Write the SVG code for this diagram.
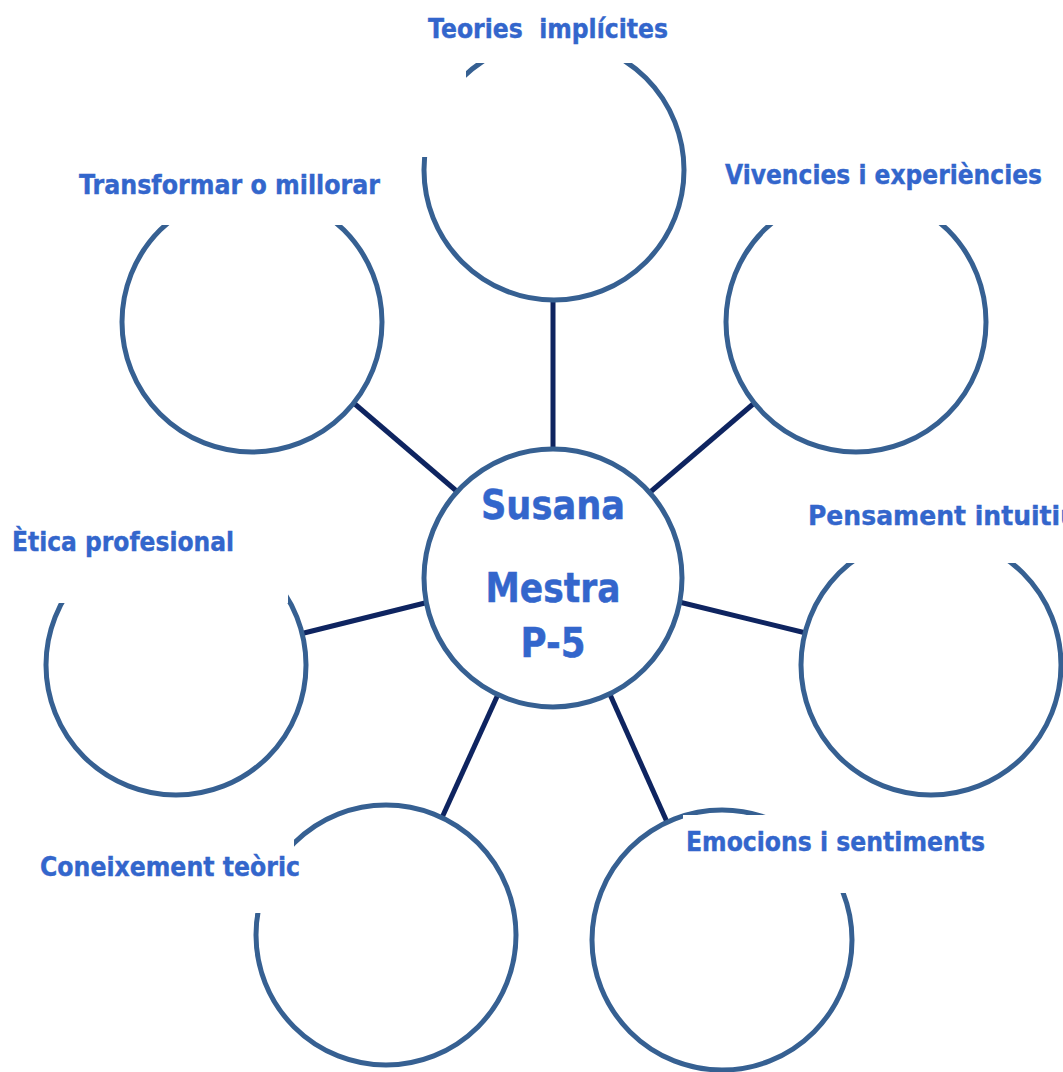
<svg xmlns="http://www.w3.org/2000/svg" width="1063" height="1072" viewBox="0 0 1063 1072">
<style>
.node{fill:#fff;stroke:#366092;stroke-width:5}
.mask{fill:#fff;stroke:none}
.lbl{font-family:"DejaVu Sans","Verdana",sans-serif;font-weight:bold;font-size:26px;fill:#3366cc;stroke:#3366cc;stroke-width:0.4}
.ctr{font-family:"DejaVu Sans","Verdana",sans-serif;font-weight:bold;font-size:41px;fill:#3366cc;stroke:#3366cc;stroke-width:0.5;text-anchor:middle}
.conn line{stroke:#0e2460;stroke-width:5}
</style>
<rect width="1063" height="1072" fill="#fff"/>
<g id="connectors" class="conn">
<line x1="553" y1="295" x2="553" y2="455"/>
<line x1="349" y1="399" x2="460" y2="494"/>
<line x1="759" y1="399" x2="648" y2="494"/>
<line x1="675" y1="601" x2="810" y2="634"/>
<line x1="300" y1="634" x2="433" y2="601"/>
<line x1="500" y1="690" x2="440" y2="822"/>
<line x1="608" y1="690" x2="667" y2="822"/>
</g>
<g id="center">
<circle class="node" cx="553" cy="578" r="129"/>
<text class="ctr" x="553" y="519" textLength="144" lengthAdjust="spacingAndGlyphs">Susana</text>
<text class="ctr" x="553" y="602" textLength="135" lengthAdjust="spacingAndGlyphs">Mestra</text>
<text class="ctr" x="553" y="657" textLength="65" lengthAdjust="spacingAndGlyphs">P-5</text>
</g>
<g id="n-teories">
<circle class="node" cx="554" cy="170" r="130"/>
<rect class="mask" x="400" y="0" width="300" height="63"/>
<rect class="mask" x="400" y="0" width="66" height="157"/>
<text class="lbl" x="428" y="38" textLength="240" lengthAdjust="spacingAndGlyphs" xml:space="preserve">Teories  implícites</text>
</g>
<g id="n-transformar">
<circle class="node" cx="252" cy="322" r="130"/>
<rect class="mask" x="70" y="160" width="330" height="65"/>
<text class="lbl" x="79" y="194" textLength="301" lengthAdjust="spacingAndGlyphs">Transformar o millorar</text>
</g>
<g id="n-vivencies">
<circle class="node" cx="856" cy="322" r="130"/>
<rect class="mask" x="715" y="150" width="348" height="75"/>
<text class="lbl" x="725" y="184" textLength="317" lengthAdjust="spacingAndGlyphs">Vivencies i experiències</text>
</g>
<g id="n-pensament">
<circle class="node" cx="931" cy="665" r="130"/>
<rect class="mask" x="800" y="490" width="263" height="73"/>
<text class="lbl" x="808" y="525" textLength="270" lengthAdjust="spacingAndGlyphs">Pensament intuitiu</text>
</g>
<g id="n-etica">
<circle class="node" cx="176" cy="665" r="130"/>
<rect class="mask" x="0" y="520" width="288" height="83"/>
<text class="lbl" x="12" y="551" textLength="222" lengthAdjust="spacingAndGlyphs">Ètica profesional</text>
</g>
<g id="n-coneixement">
<circle class="node" cx="386" cy="935" r="130"/>
<rect class="mask" x="30" y="839" width="264" height="74"/>
<text class="lbl" x="40" y="876" textLength="260" lengthAdjust="spacingAndGlyphs">Coneixement teòric</text>
</g>
<g id="n-emocions">
<circle class="node" cx="722" cy="940" r="130"/>
<rect class="mask" x="683" y="815" width="320" height="78"/>
<text class="lbl" x="686" y="851" textLength="299" lengthAdjust="spacingAndGlyphs">Emocions i sentiments</text>
</g>
</svg>
